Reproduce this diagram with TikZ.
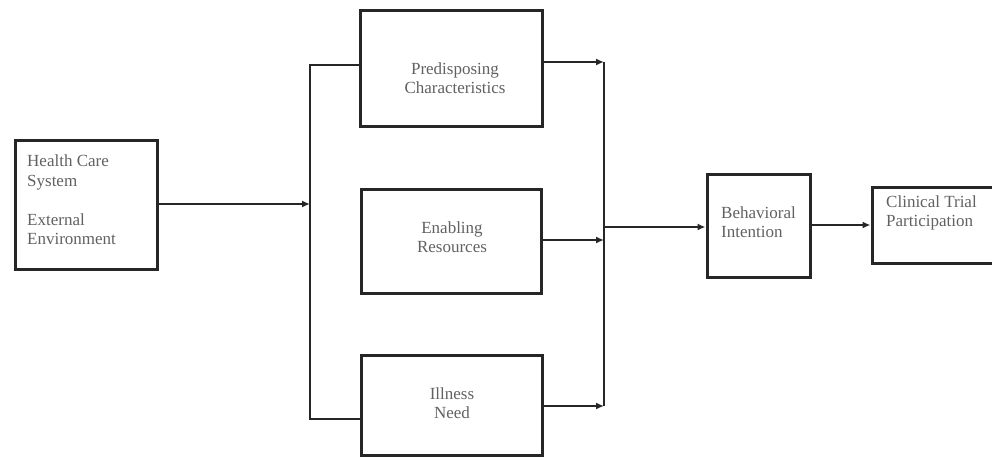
\documentclass[tikz,border=0pt]{standalone}
\usepackage{fontspec}
\setmainfont{Liberation Serif}
\usetikzlibrary{arrows.meta}
\begin{document}
\begin{tikzpicture}[x=1pt,y=-1pt,
  boxstyle/.style={draw=black!85,line width=3pt,inner sep=0pt},
  txt/.style={inner sep=0pt,text=black!62,font=\fontsize{17}{19.5}\selectfont},
  conn/.style={draw=black!85,line width=2pt},
  arr/.style={conn,-{Latex[length=8pt,width=7pt]}}]
\useasboundingbox (0,0) rectangle (992,457);
% boxes
\node[boxstyle,minimum width=142pt,minimum height=128pt] (hcs) at (86,205) {};
\node[boxstyle,minimum width=182pt,minimum height=116pt] (pre) at (451,69) {};
\node[boxstyle,minimum width=180pt,minimum height=104pt] (ena) at (451,241) {};
\node[boxstyle,minimum width=181pt,minimum height=100pt] (ill) at (451.5,405) {};
\node[boxstyle,minimum width=103pt,minimum height=102pt] (beh) at (758.5,226) {};
\node[boxstyle,minimum width=124pt,minimum height=76pt] (cli) at (934,225) {};
% texts
\node[txt,anchor=west,align=left] (hcst) at (27,200) {Health Care\\System\\[19.5pt]External\\Environment};
\node[txt,align=center] (pret) at (455,78) {Predisposing\\Characteristics};
\node[txt,align=center] (enat) at (452,237) {Enabling\\Resources};
\node[txt,align=center] (illt) at (452,403) {Illness\\Need};
\node[txt,anchor=west,align=left] (beht) at (721,222) {Behavioral\\Intention};
\node[txt,anchor=west,align=left] (clit) at (886,213) {Clinical Trial\\Participation};
% junction coordinates
\coordinate (lsplit) at (310,204);
\coordinate (ltop) at (310,65);
\coordinate (lbot) at (310,419);
\coordinate (rtop) at (604,62);
\coordinate (rmid) at (604,240);
\coordinate (rbot) at (604,406);
\coordinate (rout) at (604,227);
% connectors
\draw[arr] (hcs.east |- lsplit) -- (lsplit);
\draw[conn] (pre.west |- ltop) -- (ltop) -- (lbot) -- (ill.west |- lbot);
\draw[arr] (pre.east |- rtop) -- (rtop);
\draw[arr] (ena.east |- rmid) -- (rmid);
\draw[arr] (ill.east |- rbot) -- (rbot);
\draw[conn] (rtop) -- (rbot);
\draw[arr] (rout) -- (beh.west |- rout);
\draw[arr] (beh.east |- 0,225) -- (cli.west |- 0,225);
\end{tikzpicture}
\end{document}
